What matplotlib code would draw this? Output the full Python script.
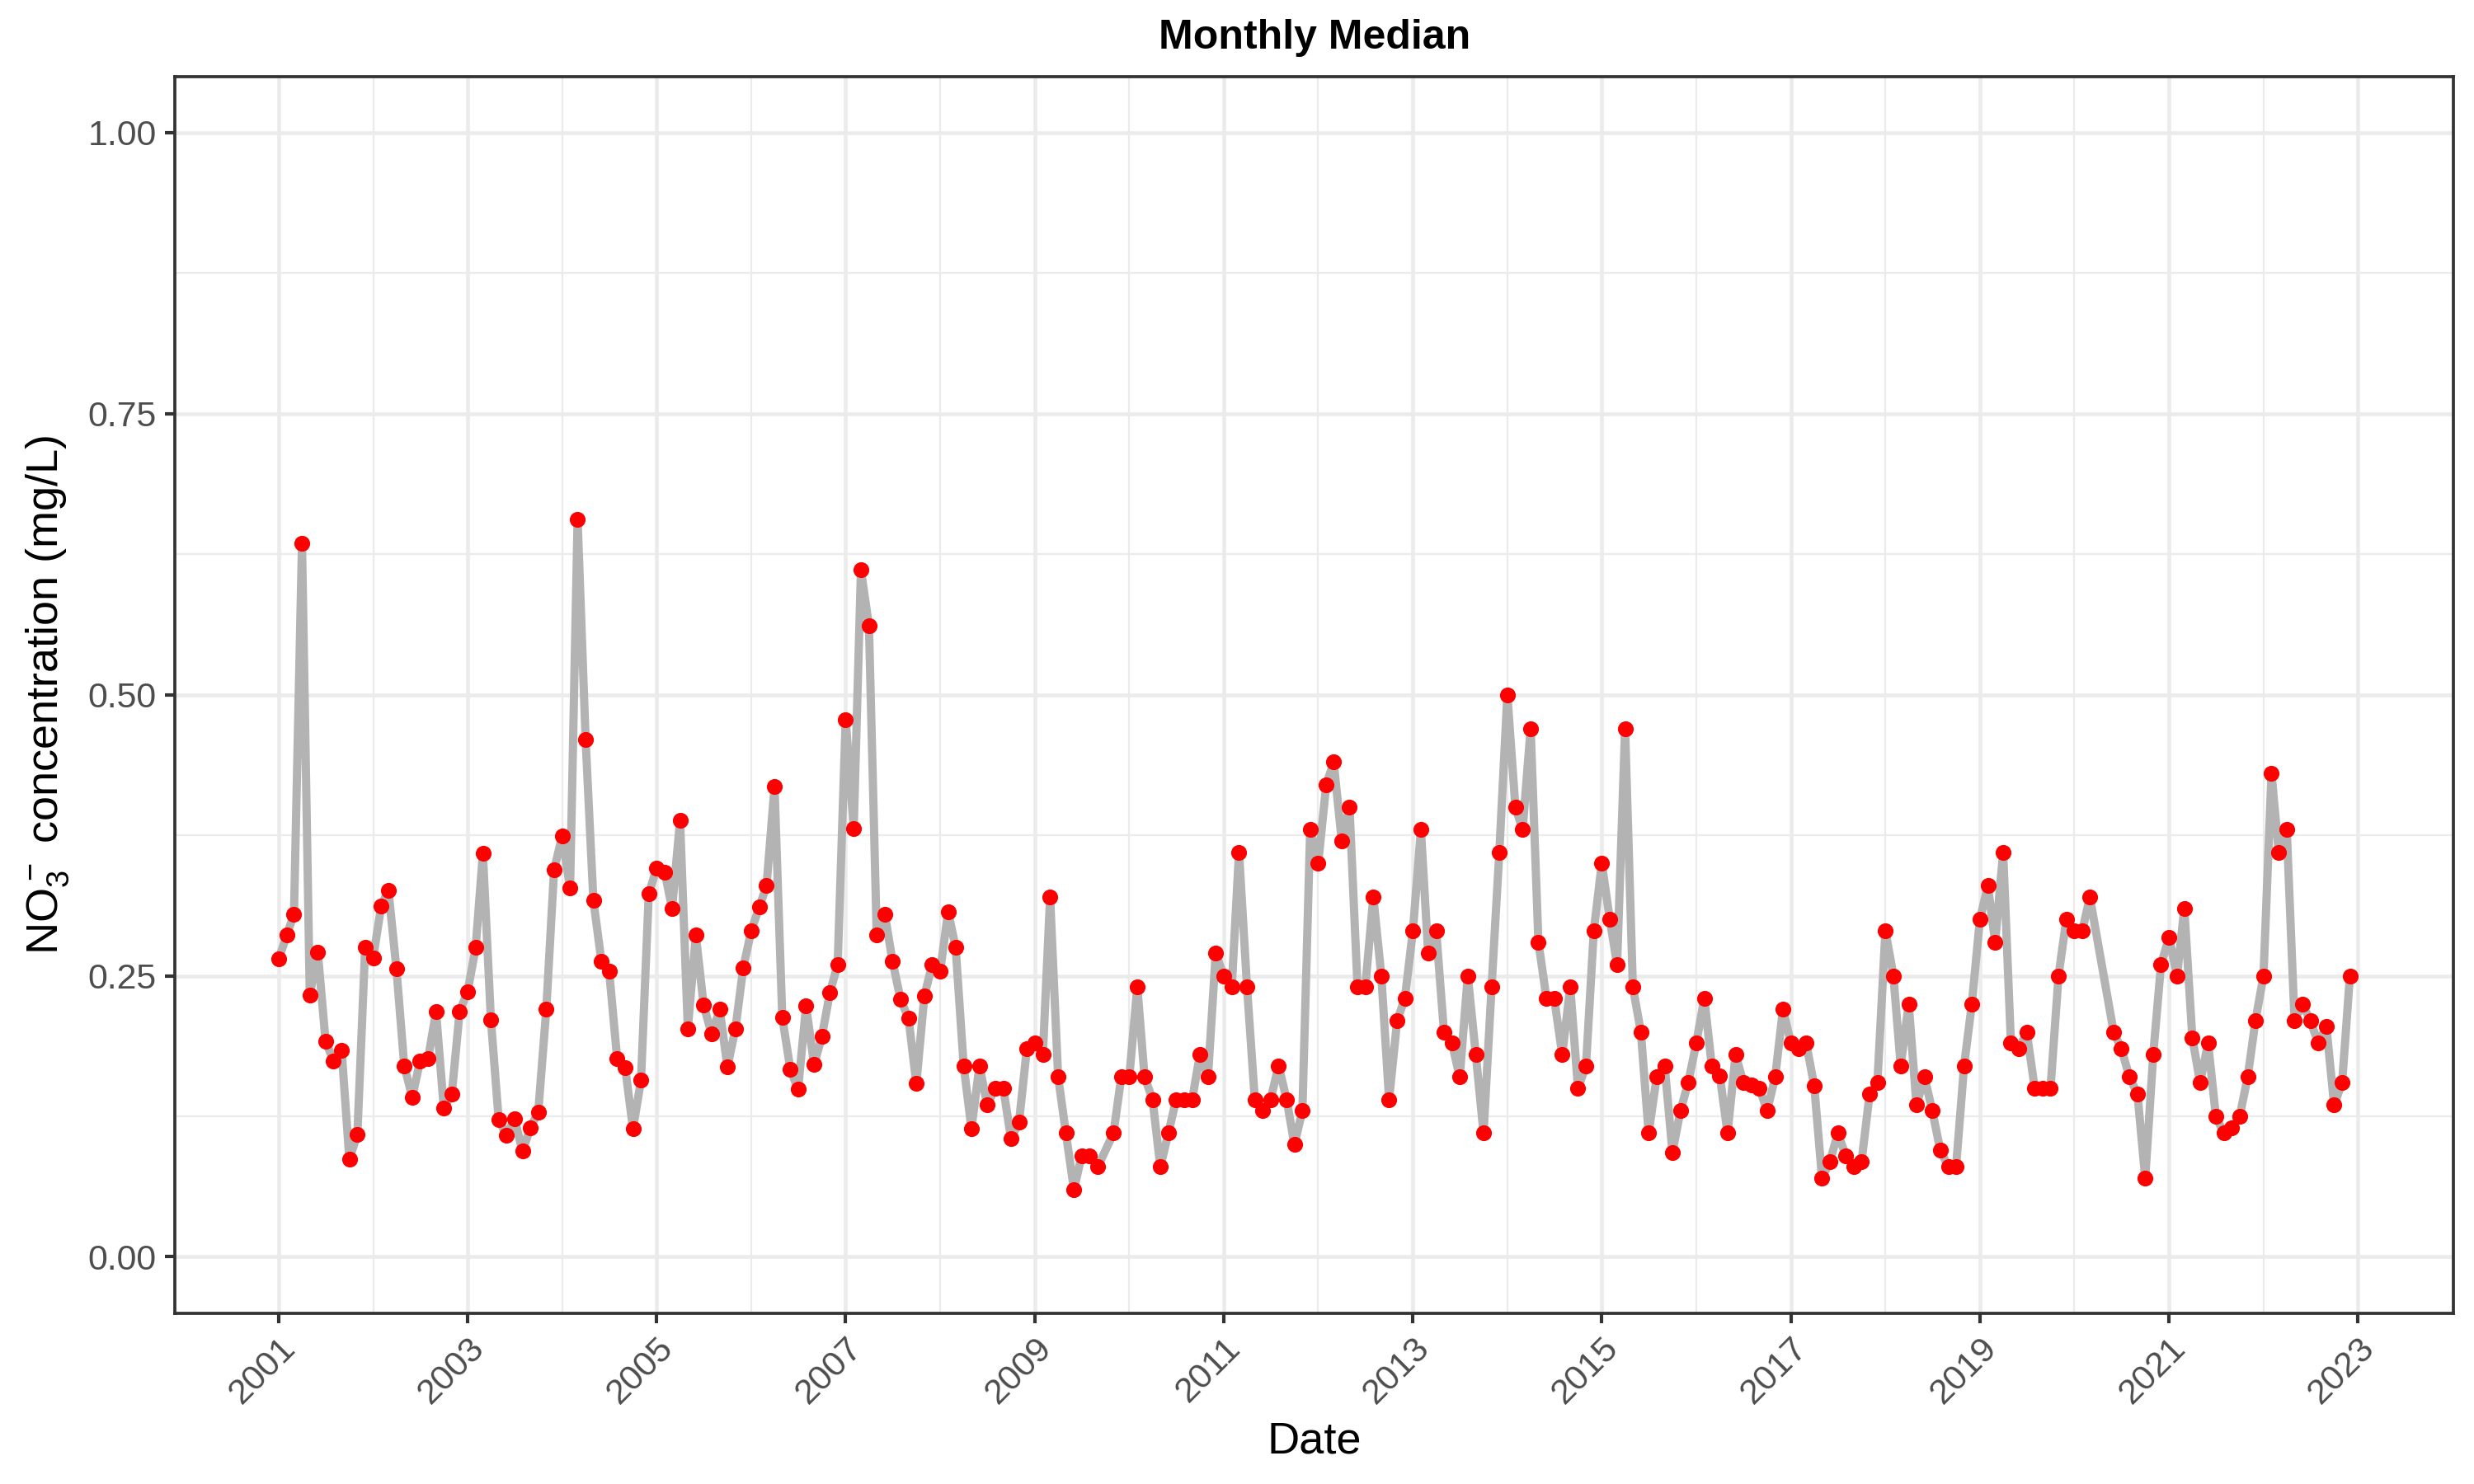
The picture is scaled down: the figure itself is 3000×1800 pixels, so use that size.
import numpy as np
import pandas as pd
import matplotlib
matplotlib.use('Agg')
import matplotlib.pyplot as plt
import matplotlib.dates as mdates
from matplotlib.ticker import MultipleLocator

plt.rcParams['font.family'] = ['Liberation Sans', 'DejaVu Sans']
plt.rcParams['mathtext.default'] = 'regular'

# monthly medians, one list per year (nan = no sample that month)
nan = np.nan
v2001 = [0.265, 0.286, 0.305, 0.635, 0.233, 0.271, 0.192, 0.174, 0.184, 0.087, 0.109, 0.275]
v2002 = [0.266, 0.312, 0.326, 0.256, 0.170, 0.142, 0.174, 0.176, 0.218, 0.132, 0.145, 0.218]
v2003 = [0.236, 0.275, 0.359, 0.211, 0.122, 0.108, 0.123, 0.094, 0.115, 0.129, 0.220, 0.344]
v2004 = [0.374, 0.328, 0.656, 0.460, 0.317, 0.263, 0.254, 0.176, 0.168, 0.114, 0.157, 0.323]
v2005 = [0.346, 0.342, 0.310, 0.388, 0.203, 0.286, 0.224, 0.198, 0.220, 0.169, 0.203, 0.257]
v2006 = [0.290, 0.311, 0.330, 0.418, 0.213, 0.167, 0.149, 0.223, 0.171, 0.196, 0.235, 0.260]
v2007 = [0.478, 0.381, 0.611, 0.561, 0.286, 0.305, 0.263, 0.229, 0.212, 0.154, 0.232, 0.260]
v2008 = [0.254, 0.307, 0.275, 0.170, 0.114, 0.170, 0.135, 0.150, 0.150, 0.105, 0.120, 0.185]
v2009 = [0.190, 0.180, 0.320, 0.160, 0.110, 0.060, 0.090, 0.090, 0.080, nan, 0.110, 0.160]
v2010 = [0.160, 0.240, 0.160, 0.140, 0.080, 0.110, 0.140, 0.140, 0.140, 0.180, 0.160, 0.270]
v2011 = [0.250, 0.240, 0.360, 0.240, 0.140, 0.130, 0.140, 0.170, 0.140, 0.100, 0.130, 0.380]
v2012 = [0.350, 0.420, 0.440, 0.370, 0.400, 0.240, 0.240, 0.320, 0.250, 0.140, 0.210, 0.230]
v2013 = [0.290, 0.380, 0.270, 0.290, 0.200, 0.190, 0.160, 0.250, 0.180, 0.110, 0.240, 0.360]
v2014 = [0.500, 0.400, 0.380, 0.470, 0.280, 0.230, 0.230, 0.180, 0.240, 0.150, 0.170, 0.290]
v2015 = [0.350, 0.300, 0.260, 0.470, 0.240, 0.200, 0.110, 0.160, 0.170, 0.093, 0.130, 0.155]
v2016 = [0.190, 0.230, 0.170, 0.161, 0.110, 0.180, 0.155, 0.153, 0.150, 0.130, 0.160, 0.220]
v2017 = [0.190, 0.185, 0.190, 0.152, 0.070, 0.085, 0.110, 0.090, 0.080, 0.085, 0.145, 0.155]
v2018 = [0.290, 0.250, 0.170, 0.225, 0.135, 0.160, 0.130, 0.095, 0.080, 0.080, 0.170, 0.225]
v2019 = [0.300, 0.330, 0.280, 0.360, 0.190, 0.185, 0.200, 0.150, 0.150, 0.150, 0.250, 0.300]
v2020 = [0.290, 0.290, 0.320, nan, nan, 0.200, 0.185, 0.160, 0.145, 0.070, 0.180, 0.260]
v2021 = [0.284, 0.250, 0.310, 0.195, 0.155, 0.190, 0.125, 0.110, 0.115, 0.125, 0.160, 0.210]
v2022 = [0.250, 0.430, 0.360, 0.380, 0.210, 0.225, 0.210, 0.190, 0.205, 0.135, 0.155, 0.250]

years = list(range(2001, 2023))
tick_years = list(range(2001, 2024, 2))

values = np.array(v2001 + v2002 + v2003 + v2004 + v2005 + v2006 + v2007 + v2008 +
                  v2009 + v2010 + v2011 + v2012 + v2013 + v2014 + v2015 + v2016 +
                  v2017 + v2018 + v2019 + v2020 + v2021 + v2022)
dates = pd.date_range('%d-01-01' % years[0], '%d-12-01' % years[-1], freq='MS')
df = pd.DataFrame({'date': dates, 'no3': values}).dropna()

fig = plt.figure(figsize=(10, 6), dpi=300)
ax = fig.add_axes([0.0708, 0.1152, 0.9209, 0.8333])

ax.plot(df['date'], df['no3'], color='#B3B3B3', lw=2.4, zorder=2)
ax.plot(df['date'], df['no3'], 'o', color='red', markersize=4.6, mec='none', zorder=3)

# ggplot-like 5% expansion
x0 = mdates.date2num(df['date'].min())
x1 = mdates.date2num(df['date'].max())
pad = (x1 - x0) * 0.05
ax.set_xlim(x0 - pad, x1 + pad)
ax.set_ylim(-0.05, 1.05)

major_x = [mdates.date2num(pd.Timestamp('%d-01-01' % y)) for y in tick_years]
minor_x = [mdates.date2num(pd.Timestamp('%d-01-01' % y)) for y in range(2002, 2024, 2)]
ax.set_xticks(major_x)
ax.set_xticklabels([str(y) for y in tick_years], rotation=45, ha='right',
                   rotation_mode='anchor')
ax.set_xticks(minor_x, minor=True)
ax.yaxis.set_major_locator(MultipleLocator(0.25))
ax.yaxis.set_minor_locator(MultipleLocator(0.125))
ax.set_yticks([0, 0.25, 0.5, 0.75, 1.0])
ax.set_yticklabels(['0.00', '0.25', '0.50', '0.75', '1.00'])

ax.grid(which='major', color='#EBEBEB', lw=1.1, zorder=0)
ax.grid(which='minor', color='#EBEBEB', lw=0.55, zorder=0)
ax.set_axisbelow(True)

ax.tick_params(which='major', length=2.9, width=1.0, color='#333333',
               labelsize=10.3, labelcolor='#4D4D4D', pad=2.5)
ax.tick_params(which='minor', length=0)
for s in ax.spines.values():
    s.set_color('#333333')
    s.set_linewidth(0.9)

ax.set_xlabel('Date', fontsize=13, labelpad=3)
ax.set_ylabel('NO$_3^-$ concentration (mg/L)', fontsize=13, labelpad=5)
ax.set_title('Monthly Median', fontsize=12, fontweight='bold', pad=8)

fig.savefig('out.png', dpi=300)
